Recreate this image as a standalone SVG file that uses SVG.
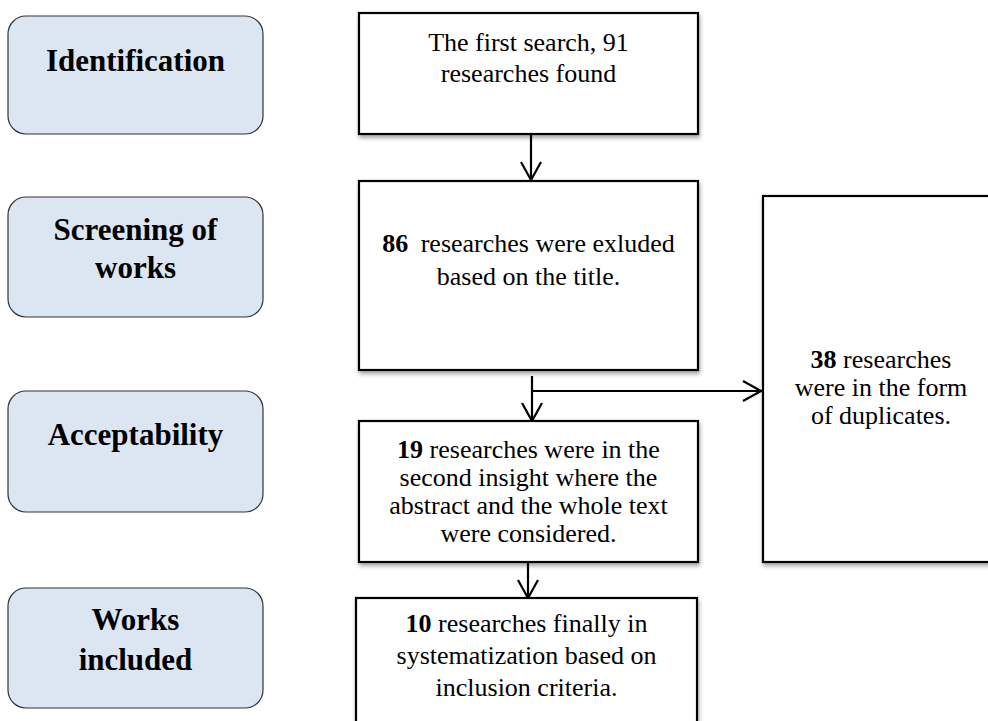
<svg xmlns="http://www.w3.org/2000/svg" width="988" height="721" viewBox="0 0 988 721">
<style>
.stage{fill:#dce6f2;stroke:#333;stroke-width:1.2}
.box{fill:#fff;stroke:#000;stroke-width:2.2}
.lbl{font-family:"Liberation Serif","Times New Roman",serif;font-weight:bold;font-size:31px;fill:#000;text-anchor:middle}
.txt{font-family:"Liberation Serif","Times New Roman",serif;font-size:26px;fill:#000;text-anchor:middle}
.b{font-weight:bold}
.conn{stroke:#000;stroke-width:2.2;fill:none}
</style>
<defs>
<filter id="sh" x="-10%" y="-10%" width="130%" height="130%">
<feDropShadow dx="1" dy="3" stdDeviation="2" flood-color="#000" flood-opacity="0.35"/>
</filter>
<marker id="arr" viewBox="0 0 20 22" refX="19" refY="11" markerWidth="20" markerHeight="22" markerUnits="userSpaceOnUse" orient="auto">
<path d="M1,1 L19,11 L1,21" fill="none" stroke="#000" stroke-width="2.2"/>
</marker>
</defs>
<rect width="988" height="721" fill="#fff"/>

<g id="stage-identification">
<rect class="stage" x="8" y="16" width="255" height="118" rx="18"/>
<text class="lbl" x="135.5" y="71">Identification</text>
</g>
<g id="stage-screening">
<rect class="stage" x="8" y="197" width="255" height="120" rx="18"/>
<text class="lbl" x="135.5" y="240">Screening of</text>
<text class="lbl" x="135.5" y="278">works</text>
</g>
<g id="stage-acceptability">
<rect class="stage" x="8" y="391" width="255" height="121" rx="18"/>
<text class="lbl" x="135.5" y="445">Acceptability</text>
</g>
<g id="stage-included">
<rect class="stage" x="8" y="588" width="255" height="120" rx="18"/>
<text class="lbl" x="135.5" y="630">Works</text>
<text class="lbl" x="135.5" y="670">included</text>
</g>

<g id="connectors">
<line class="conn" x1="531" y1="135" x2="531" y2="180" marker-end="url(#arr)"/>
<line class="conn" x1="532" y1="376" x2="532" y2="421" marker-end="url(#arr)"/>
<line class="conn" x1="532" y1="391" x2="761" y2="391" marker-end="url(#arr)"/>
<line class="conn" x1="528" y1="563" x2="528" y2="598" marker-end="url(#arr)"/>
</g>

<g id="box-first-search">
<rect class="box" filter="url(#sh)" x="359" y="13" width="339" height="121"/>
<text class="txt" x="528.5" y="51">The first search, 91</text>
<text class="txt" x="528.5" y="82">researches found</text>
</g>
<g id="box-excluded">
<rect class="box" filter="url(#sh)" x="359" y="181" width="339" height="189"/>
<text class="txt" x="528.5" y="252"><tspan class="b">86</tspan><tspan dx="6"> researches were exluded</tspan></text>
<text class="txt" x="528.5" y="285">based on the title.</text>
</g>
<g id="box-second-insight">
<rect class="box" filter="url(#sh)" x="359" y="421" width="339" height="141"/>
<text class="txt" x="528.5" y="458"><tspan class="b">19</tspan> researches were in the</text>
<text class="txt" x="528.5" y="486">second insight where the</text>
<text class="txt" x="528.5" y="514">abstract and the whole text</text>
<text class="txt" x="528.5" y="542">were considered.</text>
</g>
<g id="box-final">
<rect class="box" filter="url(#sh)" x="356" y="598" width="341" height="140"/>
<text class="txt" x="526.5" y="632"><tspan class="b">10</tspan> researches finally in</text>
<text class="txt" x="526.5" y="664">systematization based on</text>
<text class="txt" x="526.5" y="696">inclusion criteria.</text>
</g>
<g id="box-duplicates">
<rect class="box" filter="url(#sh)" x="763" y="196" width="240" height="366"/>
<text class="txt" x="881" y="368"><tspan class="b">38</tspan> researches</text>
<text class="txt" x="881" y="396">were in the form</text>
<text class="txt" x="881" y="424">of duplicates.</text>
</g>
</svg>
